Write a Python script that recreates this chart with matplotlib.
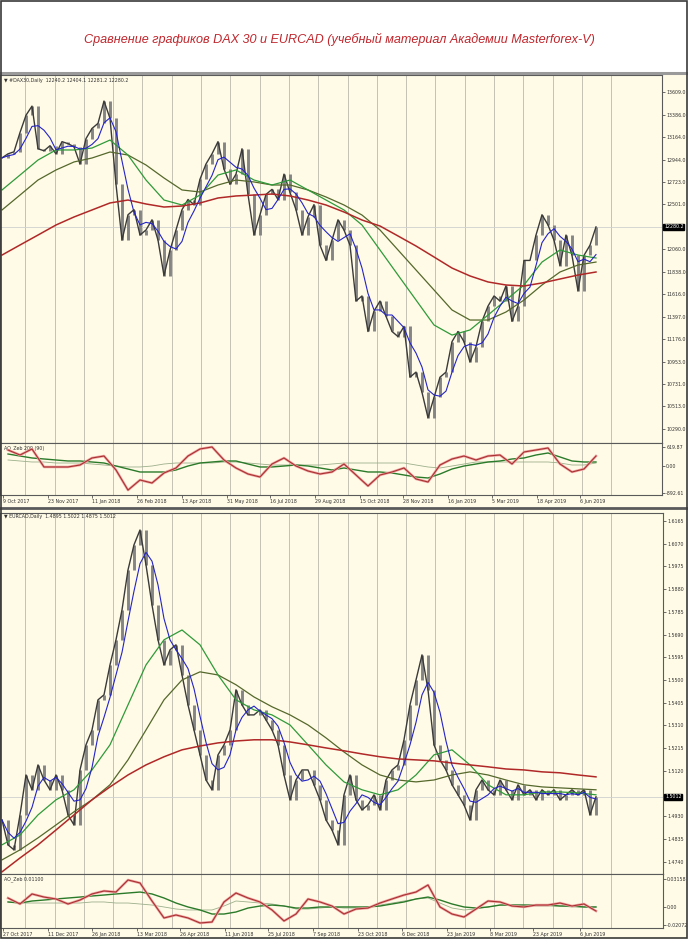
import numpy as np
import pandas as pd
import matplotlib
matplotlib.use('Agg')
import matplotlib.pyplot as plt
from matplotlib.lines import Line2D
from matplotlib.patches import Rectangle


# =========================
# DAX30 daily (one value every ~6 days)
# =========================

dax_close = [12960, 13000, 13020, 13210, 13380, 13470, 13050, 13030, 13080, 13000,
             13120, 13100, 13070, 12900, 13150, 13250, 13300, 13520, 13350, 12700,
             12150, 12400, 12450, 12200, 12250, 12350, 12150, 11800, 12050, 12250,
             12450, 12550, 12500, 12750, 12900, 13000, 13120, 12850, 12700, 12800,
             13050, 12600, 12200, 12400, 12600, 12650, 12550, 12800, 12620, 12450,
             12200, 12380, 12500, 12100, 11950, 12150, 12350, 12250, 12100, 11550,
             11600, 11250, 11450, 11550, 11400, 11250, 11200, 11300, 10800, 10850,
             10650, 10400, 10600, 10800, 10850, 11150, 11250, 11150, 10950, 11100,
             11350, 11500, 11600, 11550, 11700, 11350, 11500, 11950, 11950, 12200,
             12400, 12300, 12150, 11900, 12200, 12000, 11650, 12000, 12100, 12280.2]

# moving averages, one value every 3rd close
dax_ma_red = [12003, 12102, 12200, 12299, 12378, 12447, 12516, 12545, 12506, 12476,
              12486, 12516, 12565, 12585, 12594, 12604, 12585, 12545, 12496, 12427,
              12348, 12289, 12191, 12092, 11984, 11875, 11797, 11738, 11708, 11698,
              11728, 11767, 11806, 11836]
dax_ma_green = [12644, 12791, 12939, 13038, 13038, 13057, 13136, 12988, 12742, 12545,
                12496, 12594, 12791, 12841, 12742, 12693, 12742, 12644, 12545, 12447,
                12299, 12053, 11806, 11560, 11314, 11215, 11265, 11412, 11560, 11708,
                11934, 12053, 12003, 11974]
dax_ma_olive = [12447, 12594, 12742, 12841, 12920, 12959, 13018, 12988, 12890, 12762,
                12644, 12624, 12693, 12742, 12723, 12693, 12693, 12644, 12575, 12496,
                12397, 12250, 12053, 11856, 11659, 11462, 11363, 11363, 11442, 11560,
                11708, 11836, 11905, 11934]

# oscillator, one value every 2nd close
dax_osc = [520, 355, 553, -39, -39, -39, 26, 257, 322, -138,
           -800, -467, -566, -237, -72, 322, 553, 619, 191, -72,
           -270, -368, 59, 257, -7, -171, -270, -204, 59, -303,
           -665, -303, -204, -72, -434, -533, 26, 224, 322, 191,
           322, 355, 59, 454, 520, 586, 59, -204, -105, 322]
dax_osc_sig = [388, 322, 257, 224, 191, 158, 158, 125, 92, -7,
               -105, -204, -204, -204, -138, -7, 92, 125, 158, 158,
               59, -39, -39, -7, 26, -7, -72, -138, -72, -138,
               -204, -204, -237, -303, -368, -401, -270, -105, -7, 59,
               125, 158, 224, 257, 355, 421, 290, 158, 125, 125]
dax_osc_thin = [191, 158, 125, 125, 92, 92, 92, 59, 26, -7,
                -39, -39, -7, 59, 92, 92, 92, 92, 125, 125,
                92, 59, 26, 26, 26, 26, 26, 59, 92, 92,
                92, 92, 92, 92, 26, -39, -72, -7, 59, 125,
                125, 125, 125, 125, 125, 125, 92, 26, 26, 92]

dax_ticks = [13609.0, 13386.0, 13164.0, 12944.0, 12723.0, 12501.0, 12060.0,
             11838.0, 11616.0, 11397.0, 11176.0, 10953.0, 10731.0, 10513.0, 10290.0]
dax_dates = ['9 Oct 2017', '23 Nov 2017', '11 Jan 2018', '26 Feb 2018', '13 Apr 2018',
             '31 May 2018', '16 Jul 2018', '29 Aug 2018', '15 Oct 2018', '28 Nov 2018',
             '16 Jan 2019', '5 Mar 2019', '18 Apr 2019', '6 Jun 2019']


# =========================
# EURCAD daily (one value every ~6 days)
# =========================

eur_close = [1.4915, 1.4811, 1.4790, 1.4936, 1.5103, 1.5041, 1.5145, 1.5082, 1.5041, 1.5103,
             1.5041, 1.4936, 1.4894, 1.5124, 1.5229, 1.5291, 1.5417, 1.5438, 1.5563, 1.5668,
             1.5793, 1.5960, 1.6065, 1.6127, 1.5981, 1.5814, 1.5668, 1.5563, 1.5626, 1.5647,
             1.5521, 1.5396, 1.5291, 1.5187, 1.5082, 1.5041, 1.5187, 1.5229, 1.5291, 1.5459,
             1.5396, 1.5354, 1.5354, 1.5375, 1.5333, 1.5291, 1.5229, 1.5103, 1.4999, 1.5082,
             1.5124, 1.5124, 1.5062, 1.4999, 1.4915, 1.4873, 1.4811, 1.5020, 1.5103, 1.4999,
             1.4957, 1.4978, 1.5020, 1.4957, 1.5082, 1.5124, 1.5145, 1.5250, 1.5396, 1.5500,
             1.5605, 1.5459, 1.5229, 1.5166, 1.5124, 1.5062, 1.5020, 1.4978, 1.4915, 1.5041,
             1.5082, 1.5041, 1.5020, 1.5082, 1.5041, 1.4999, 1.5062, 1.5020, 1.5041, 1.4999,
             1.5041, 1.5020, 1.5041, 1.4999, 1.5020, 1.5041, 1.5020, 1.5041, 1.4936, 1.5012]

eur_ma_red = [1.4698, 1.4756, 1.4811, 1.4873, 1.4936, 1.4999, 1.5053, 1.5103, 1.5145, 1.5179,
              1.5208, 1.5224, 1.5237, 1.5245, 1.5250, 1.5250, 1.5241, 1.5229, 1.5216, 1.5204,
              1.5191, 1.5179, 1.5170, 1.5166, 1.5162, 1.5153, 1.5145, 1.5137, 1.5128, 1.5124,
              1.5116, 1.5112, 1.5103, 1.5095]
eur_ma_green = [1.4811, 1.4852, 1.4936, 1.4999, 1.5041, 1.5124, 1.5229, 1.5396, 1.5563, 1.5668,
                1.5709, 1.5647, 1.5521, 1.5417, 1.5375, 1.5354, 1.5312, 1.5229, 1.5145, 1.5074,
                1.5041, 1.5020, 1.5041, 1.5103, 1.5187, 1.5208, 1.5145, 1.5062, 1.5020, 1.5020,
                1.5032, 1.5032, 1.5028, 1.5020]
eur_ma_olive = [1.4748, 1.4790, 1.4840, 1.4894, 1.4949, 1.4999, 1.5062, 1.5166, 1.5291, 1.5417,
                1.5500, 1.5534, 1.5521, 1.5480, 1.5429, 1.5388, 1.5354, 1.5312, 1.5258, 1.5199,
                1.5145, 1.5103, 1.5082, 1.5074, 1.5082, 1.5103, 1.5116, 1.5103, 1.5082, 1.5062,
                1.5053, 1.5049, 1.5045, 1.5041]

eur_osc = [0.0100, 0.0032, 0.0146, 0.0111, 0.0089, 0.0032, 0.0077, 0.0146, 0.0180, 0.0168,
           0.0305, 0.0271, 0.0066, -0.0127, -0.0093, -0.0127, -0.0184, -0.0173, 0.0055, 0.0157,
           0.0100, 0.0055, -0.0036, -0.0161, -0.0082, 0.0089, 0.0055, 0.0009, -0.0082, -0.0025,
           -0.0014, 0.0043, 0.0089, 0.0134, 0.0168, 0.0248, -0.0002, -0.0082, -0.0116, -0.0025,
           0.0066, 0.0055, 0.0009, -0.0002, 0.0020, 0.0020, 0.0043, 0.0009, 0.0032, -0.0048]
eur_osc_sig = [0.0055, 0.0043, 0.0066, 0.0077, 0.0089, 0.0100, 0.0111, 0.0123, 0.0134, 0.0146,
               0.0157, 0.0168, 0.0146, 0.0100, 0.0043, -0.0002, -0.0036, -0.0082, -0.0082, -0.0059,
               -0.0014, 0.0009, 0.0020, 0.0009, -0.0014, -0.0014, -0.0002, -0.0002, -0.0002, -0.0002,
               -0.0002, 0.0009, 0.0032, 0.0055, 0.0089, 0.0111, 0.0077, 0.0032, -0.0002, -0.0014,
               -0.0002, 0.0020, 0.0020, 0.0020, 0.0020, 0.0020, 0.0009, 0.0009, -0.0002, -0.0002]
eur_osc_thin = [0.0055, 0.0043, 0.0043, 0.0043, 0.0043, 0.0043, 0.0043, 0.0055, 0.0055, 0.0043,
                0.0043, 0.0032, 0.0020, -0.0002, -0.0025, -0.0036, -0.0036, -0.0036, 0.0009, 0.0066,
                0.0055, 0.0043, 0.0032, 0.0009, -0.0025, -0.0025, -0.0014, -0.0002, -0.0014, -0.0014,
                -0.0002, 0.0020, 0.0043, 0.0066, 0.0089, 0.0100, 0.0043, -0.0014, -0.0036, -0.0025,
                -0.0002, 0.0020, 0.0020, 0.0020, 0.0009, 0.0009, 0.0009, -0.0002, -0.0002, -0.0002]

eur_ticks = [1.6165, 1.6070, 1.5975, 1.5880, 1.5785, 1.5690, 1.5595, 1.5500,
             1.5405, 1.5310, 1.5215, 1.5120, 1.4930, 1.4835, 1.4740]
eur_dates = ['27 Oct 2017', '11 Dec 2017', '26 Jan 2018', '13 Mar 2018', '26 Apr 2018',
             '11 Jun 2018', '25 Jul 2018', '7 Sep 2018', '23 Oct 2018', '6 Dec 2018',
             '23 Jan 2019', '8 Mar 2019', '23 Apr 2019', '6 Jun 2019']


# =========================
# layout (pixels of the 688x939 picture)
# =========================

W, H = 688, 939
BG = '#fffbe6'
GRID = '#c4c2b4'
SMALL = 3.4

plt.rcParams['font.family'] = ['DejaVu Sans']


def rect(x0, y0, x1, y1):
    return [x0 / W, 1 - y1 / H, (x1 - x0) / W, (y1 - y0) / H]


def to_idx(px):
    # one close every 6 px, first one at px 2
    return (np.asarray(px, dtype=float) - 2) / 6


grid_idx = to_idx(25.2 + 29.3 * np.arange(21))


def setup(ax, ylim, ticks, labels, right):
    ax.set_facecolor(BG)
    ax.set_xlim(to_idx(0), to_idx(right))
    ax.set_ylim(*ylim)
    ax.yaxis.tick_right()
    ax.set_yticks(ticks)
    ax.set_yticklabels(labels)
    ax.tick_params(axis='y', length=2, width=0.5, labelsize=SMALL,
                   pad=1.0, colors='#333333')
    ax.set_xticks([])
    for s in ax.spines.values():
        s.set_color('#5a5a5a')
        s.set_linewidth(0.8)
    for g in grid_idx:
        ax.axvline(g, color=GRID, lw=0.7, zorder=0)


def draw_price(ax, close, red, green, olive, last_label):
    c = np.asarray(close, dtype=float)
    x = np.arange(len(c))
    o = np.r_[c[0], c[:-1]]
    ax.axhline(c[-1], color='#cfcfcf', lw=0.6, zorder=1)
    # gray candle bodies from one close to the next
    ax.vlines(x, np.minimum(o, c), np.maximum(o, c), color='#858585', lw=2.1, zorder=2)
    ax.plot(x, c, color='#3a3a3a', lw=1.0, zorder=3)

    blue = pd.Series(c).rolling(4, min_periods=1).mean()
    xm = np.arange(len(red)) * 3
    ax.plot(xm, olive, color='#55682c', lw=0.9, zorder=4)
    ax.plot(xm, green, color='#2f9a3a', lw=0.9, zorder=4)
    ax.plot(xm, red, color='#b02828', lw=1.1, zorder=4)
    ax.plot(x, blue, color='#2424c8', lw=0.8, zorder=5)

    ax.text(1.003, c[-1], last_label, transform=ax.get_yaxis_transform(),
            fontsize=SMALL, color='white', va='center', ha='left',
            bbox=dict(boxstyle='square,pad=0.15', fc='black', ec='black'))


def draw_osc(ax, osc, sig, thin, dates, date_px):
    xo = 1 + 2 * np.arange(len(osc))
    ax.plot(xo, thin, color='#9caf8c', lw=0.6, zorder=3)
    ax.plot(xo, sig, color='#2a7a2a', lw=1.0, zorder=4)
    ax.plot(xo, osc, color='#f0a0a0', lw=1.8, zorder=4)
    ax.plot(xo, osc, color='#a83232', lw=0.8, zorder=5)
    ax.set_xticks(to_idx(date_px))
    ax.set_xticklabels(dates, ha='left')
    ax.tick_params(axis='x', length=2, width=0.5, labelsize=SMALL,
                   pad=1.0, colors='#333333')


fig = plt.figure(figsize=(W / 100, H / 100), dpi=100)
fig.patch.set_facecolor('white')

# chart window backgrounds and borders
fig.add_artist(Rectangle((0, 1 - 507 / H), 1, (507 - 73) / H, transform=fig.transFigure,
                         facecolor=BG, edgecolor='none', zorder=0))
fig.add_artist(Rectangle((0, 0), 1, (939 - 508) / H, transform=fig.transFigure,
                         facecolor=BG, edgecolor='none', zorder=0))
for yy, lw, col in [(73, 2.2, '#9a9a9a'), (507.5, 2.0, '#5a5a5a')]:
    fig.add_artist(Line2D([0, 1], [1 - yy / H] * 2, transform=fig.transFigure,
                          color=col, lw=lw))
fig.add_artist(Rectangle((0.001, 0.001), 0.998, 0.998, transform=fig.transFigure,
                         facecolor='none', edgecolor='#3a3a3a', lw=1.2, zorder=10))

fig.text(0.494, 1 - 39 / H,
         'Сравнение графиков DAX 30 и EURCAD (учебный материал Академии Masterforex-V)',
         ha='center', va='center', fontsize=9.1, style='italic', color='#c0272d',
         family=['Liberation Sans Narrow', 'Liberation Sans', 'DejaVu Sans'])

dax_date_px = [3, 48, 92, 137, 182, 227, 270, 315, 360, 403, 448, 492, 537, 580]
eur_date_px = [3, 48, 92, 137, 180, 225, 268, 313, 358, 402, 447, 490, 533, 580]

# =========================
# DAX30
# =========================

ax1 = fig.add_axes(rect(0, 75, 662, 443))
setup(ax1, (10151.6, 13776.5), dax_ticks, ['%.1f' % t for t in dax_ticks], 662)
draw_price(ax1, dax_close, dax_ma_red, dax_ma_green, dax_ma_olive, '12280.2')
ax1.text(0.006, 0.993, '\u25bc #DAX30,Daily  12240.2 12404.1 12281.2 12280.2',
         transform=ax1.transAxes, fontsize=3.4, va='top', color='#333333')

ax1i = fig.add_axes(rect(0, 443, 662, 495))
setup(ax1i, (-961, 750), [619.87, 0, -892.61], ['619.87', '0.00', '-892.61'], 662)
draw_osc(ax1i, dax_osc, dax_osc_sig, dax_osc_thin, dax_dates, dax_date_px)
ax1i.text(0.006, 0.96, 'AO_Zeb 200 (90)', transform=ax1i.transAxes,
          fontsize=3.4, va='top', color='#333333')

# =========================
# EURCAD
# =========================

ax2 = fig.add_axes(rect(0, 513, 663, 874))
setup(ax2, (1.4689, 1.6198), eur_ticks, ['%.4f' % t for t in eur_ticks], 663)
draw_price(ax2, eur_close, eur_ma_red, eur_ma_green, eur_ma_olive, '1.5012')
ax2.text(0.006, 0.996, '\u25bc EURCAD,Daily  1.4895 1.5022 1.4875 1.5012',
         transform=ax2.transAxes, fontsize=3.4, va='top', color='#333333')

ax2i = fig.add_axes(rect(0, 874, 663, 928))
setup(ax2i, (-0.0241, 0.0373), [0.03158, 0, -0.02072],
      ['0.03158', '0.00', '-0.02072'], 663)
draw_osc(ax2i, eur_osc, eur_osc_sig, eur_osc_thin, eur_dates, eur_date_px)
ax2i.text(0.006, 0.96, 'AO_Zeb 0.01100', transform=ax2i.transAxes,
          fontsize=3.4, va='top', color='#333333')

fig.savefig('out.png', dpi=100, facecolor=fig.get_facecolor())
